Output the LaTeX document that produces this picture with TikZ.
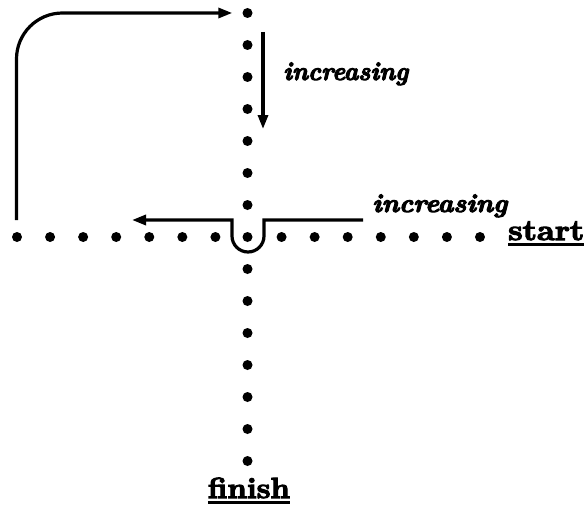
\documentclass[tikz,border=0pt]{standalone}
\usetikzlibrary{arrows.meta}
\usepackage{graphicx}
\usepackage{fontspec}
\newfontfamily\heavyfont[FakeBold=4]{Latin Modern Roman}
\begin{document}
\begin{tikzpicture}[x=1pt,y=-1pt,
  dot/.style={circle,fill=black,inner sep=0pt,minimum size=10pt},
  conn/.style={line width=3.2pt,-{Triangle[length=14pt,width=10pt]}},
  lab/.style={inner sep=0pt,font=\fontsize{26}{30}\heavyfont\bfseries\itshape},
  endlab/.style={inner sep=0pt,font=\fontsize{29}{33}\heavyfont\bfseries},
  uline/.style={line width=3pt}]
\useasboundingbox (0,0) rectangle (585,516);
% vertical column of dots
\foreach \k in {0,...,14} { \node[dot] (v\k) at (247.5,{13+32*\k}) {}; }
% horizontal row of dots (centre dot shared with the column)
\foreach \k in {0,...,14} {
  \ifnum\k=7\relax\else \node[dot] (h\k) at ({17+33.07*\k},237) {}; \fi
}
% left loop arrow
\coordinate (p1s) at (16.5,220);
\draw[conn, rounded corners=46pt] (p1s) |- ([xshift=-10pt]v0.west);
% vertical arrow
\coordinate (a1s) at (263,32);
\coordinate (a1e) at (263,129);
\draw[conn] (a1s) -- (a1e);
% horizontal arrow with a dip around the centre dot
\coordinate (p2s) at (363,220);
\coordinate (p2e) at (132,220);
\draw[conn] (p2s) -- (264,220) -- (264,236)
  arc[start angle=0,end angle=180,radius=16] -- (232,220) -- (p2e);
% labels
\node[lab,anchor=base west] (l1) at (283,80) {\resizebox{125pt}{\height}{increasing}};
\node[lab,anchor=base west] (l2) at (372,212) {\resizebox{135pt}{\height}{increasing}};
\node[endlab,anchor=base west] (st) at (508,240) {\resizebox{76pt}{\height}{start}};
\node[endlab,anchor=base] (fi) at (249,498) {\resizebox{82pt}{\height}{finish}};
\draw[uline] ([yshift=-4.5pt]st.base west) -- ([yshift=-4.5pt]st.base east);
\draw[uline] ([yshift=-4.5pt]fi.base west) -- ([yshift=-4.5pt]fi.base east);
\end{tikzpicture}
\end{document}
